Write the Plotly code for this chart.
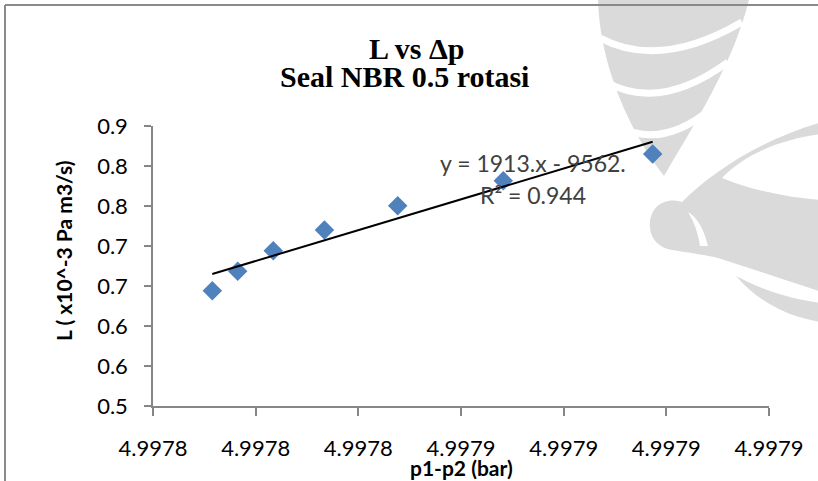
import plotly.graph_objects as go
import numpy as np

# Pressure difference p1-p2 (bar) and leakage L (x10^-3 Pa m3/s)
dp_bar = [4.99781155, 4.9978165, 4.99782343, 4.9978334, 4.99784767, 4.99786824, 4.99789734]
leak = [0.6441, 0.6684, 0.6941, 0.7200, 0.7504, 0.7816, 0.8150]

x_ticks = [4.99780, 4.99782, 4.99784, 4.99786, 4.99788, 4.99790, 4.99792]
x_tick_labels = ["4.9978", "4.9978", "4.9978", "4.9979", "4.9979", "4.9979", "4.9979"]
y_ticks = [0.50, 0.55, 0.60, 0.65, 0.70, 0.75, 0.80, 0.85]
y_tick_labels = ["0.5", "0.6", "0.6", "0.7", "0.7", "0.8", "0.8", "0.9"]

trend_label = "y = 1913.x - 9562."
r2_label = "R² = 0.944"

W, H = 818, 481
L_M, R_M, T_M, B_M = 153, 49, 126, 75
PW, PH = W - L_M - R_M, H - T_M - B_M


def px(x):
    return (x - L_M) / PW


def py(y):
    return (H - B_M - y) / PH


def path(cmds):
    """Build an SVG path in paper units from (command, [(x, y), ...]) pairs in pixels."""
    out = []
    for c, pts in cmds:
        coords = " ".join(f"{px(x):.5f},{py(y):.5f}" for x, y in pts)
        out.append(f"{c} {coords}".strip())
    return " ".join(out)


# linear least-squares trendline
slope, icpt = np.polyfit(np.array(dp_bar) - dp_bar[0], leak, 1)
x_fit = np.array([min(dp_bar), max(dp_bar)])
y_fit = slope * (x_fit - dp_bar[0]) + icpt

fig = go.Figure()
fig.add_trace(go.Scatter(
    x=dp_bar, y=leak, mode="markers",
    marker=dict(symbol="diamond", size=15, color="#4F81BD",
                line=dict(width=0)),
    showlegend=False, hoverinfo="x+y",
))
fig.add_trace(go.Scatter(
    x=x_fit, y=y_fit, mode="lines",
    line=dict(color="#000000", width=2),
    showlegend=False, hoverinfo="skip",
))

axis_grey = "#868686"
tick_font = dict(family="Lato", size=22, color="#000000")

fig.update_xaxes(
    range=[x_ticks[0], x_ticks[-1]], tickmode="array",
    tickvals=x_ticks, ticktext=x_tick_labels,
    showline=True, linecolor=axis_grey, linewidth=1.5,
    ticks="outside", ticklen=8, tickwidth=1.5, tickcolor=axis_grey,
    showgrid=False, zeroline=False, tickfont=tick_font,
    ticklabelstandoff=14,
)
fig.update_yaxes(
    range=[y_ticks[0], y_ticks[-1]], tickmode="array",
    tickvals=y_ticks, ticktext=y_tick_labels,
    showline=True, linecolor=axis_grey, linewidth=1.5,
    ticks="outside", ticklen=7, tickwidth=1.5, tickcolor=axis_grey,
    showgrid=False, zeroline=False, tickfont=tick_font,
    ticklabelstandoff=12,
)

annos = [
    dict(text="<b>L vs Δp</b>", x=px(417), y=py(48),
         font=dict(family="Liberation Serif", size=30, color="#000000")),
    dict(text="<b>Seal NBR 0.5 rotasi</b>", x=px(404), y=py(77),
         font=dict(family="Liberation Serif", size=30, color="#000000")),
    dict(text="<b>p1-p2 (bar)</b>", x=px(461), y=py(467),
         font=dict(family="Lato", size=21, color="#000000")),
    dict(text="<b>L ( x10^-3 Pa m3/s)</b>", x=px(63), y=py(251), textangle=-90,
         font=dict(family="Lato", size=21, color="#000000")),
    dict(text=trend_label, x=px(533), y=py(163),
         font=dict(family="Lato", size=23, color="#404040")),
    dict(text=r2_label, x=px(533), y=py(195),
         font=dict(family="Lato", size=23, color="#404040")),
]
for a in annos:
    a.update(xref="paper", yref="paper", xanchor="center", yanchor="middle",
             showarrow=False)

wm = "#dadada"
shapes = []

# faint page watermark behind the chart: stacked petals and a curl
petals = path([
    ("M", [(598, -5)]),
    ("C", [(598, 60), (628, 130), (664, 176)]),
    ("C", [(692, 128), (736, 60), (750, -5)]),
    ("Z", []),
])
shapes.append(dict(type="path", path=petals, fillcolor=wm, line=dict(width=0)))
for a, b, c in [((600, 38), (660, 70), (742, 22)),
                ((606, 82), (660, 112), (728, 62)),
                ((618, 126), (662, 150), (712, 108))]:
    shapes.append(dict(type="path", path=path([("M", [a]), ("Q", [b, c])]),
                       line=dict(color="#ffffff", width=7)))

curl = path([
    ("M", [(650, 228)]),
    ("C", [(648, 208), (664, 196), (682, 202)]),
    ("C", [(712, 172), (760, 140), (822, 122)]),
    ("L", [(822, 292)]),
    ("C", [(790, 282), (750, 268), (718, 258)]),
    ("C", [(700, 254), (684, 252), (672, 250)]),
    ("C", [(660, 248), (651, 240), (650, 228)]),
    ("Z", []),
])
shapes.append(dict(type="path", path=curl, fillcolor=wm, line=dict(width=0)))
hole = path([
    ("M", [(722, 178)]),
    ("C", [(748, 150), (790, 138), (822, 134)]),
    ("L", [(822, 200)]),
    ("C", [(790, 198), (750, 190), (722, 178)]),
    ("Z", []),
])
shapes.append(dict(type="path", path=hole, fillcolor="#ffffff", line=dict(width=0)))
notch = path([
    ("M", [(688, 212)]),
    ("C", [(694, 222), (698, 232), (700, 246)]),
    ("L", [(708, 246)]),
    ("C", [(704, 230), (698, 218), (688, 212)]),
    ("Z", []),
])
shapes.append(dict(type="path", path=notch, fillcolor="#ffffff", line=dict(width=0)))
band = path([
    ("M", [(736, 276)]),
    ("C", [(766, 292), (796, 300), (822, 303)]),
    ("L", [(822, 322)]),
    ("C", [(792, 318), (760, 304), (736, 276)]),
    ("Z", []),
])
shapes.append(dict(type="path", path=band, fillcolor=wm, line=dict(width=0)))

for s in shapes:
    s.update(xref="paper", yref="paper", layer="below")

# chart frame (left and top edges)
shapes += [
    dict(type="line", xref="paper", yref="paper",
         x0=px(5), y0=py(5), x1=px(5), y1=py(490),
         line=dict(color="#8a8a8a", width=2)),
    dict(type="line", xref="paper", yref="paper",
         x0=px(5), y0=py(5), x1=px(830), y1=py(5),
         line=dict(color="#8a8a8a", width=2)),
]

fig.update_layout(
    width=W, height=H,
    margin=dict(l=L_M, r=R_M, t=T_M, b=B_M),
    paper_bgcolor="#ffffff", plot_bgcolor="rgba(0,0,0,0)",
    annotations=annos, shapes=shapes,
)

fig.write_html("out.html")
